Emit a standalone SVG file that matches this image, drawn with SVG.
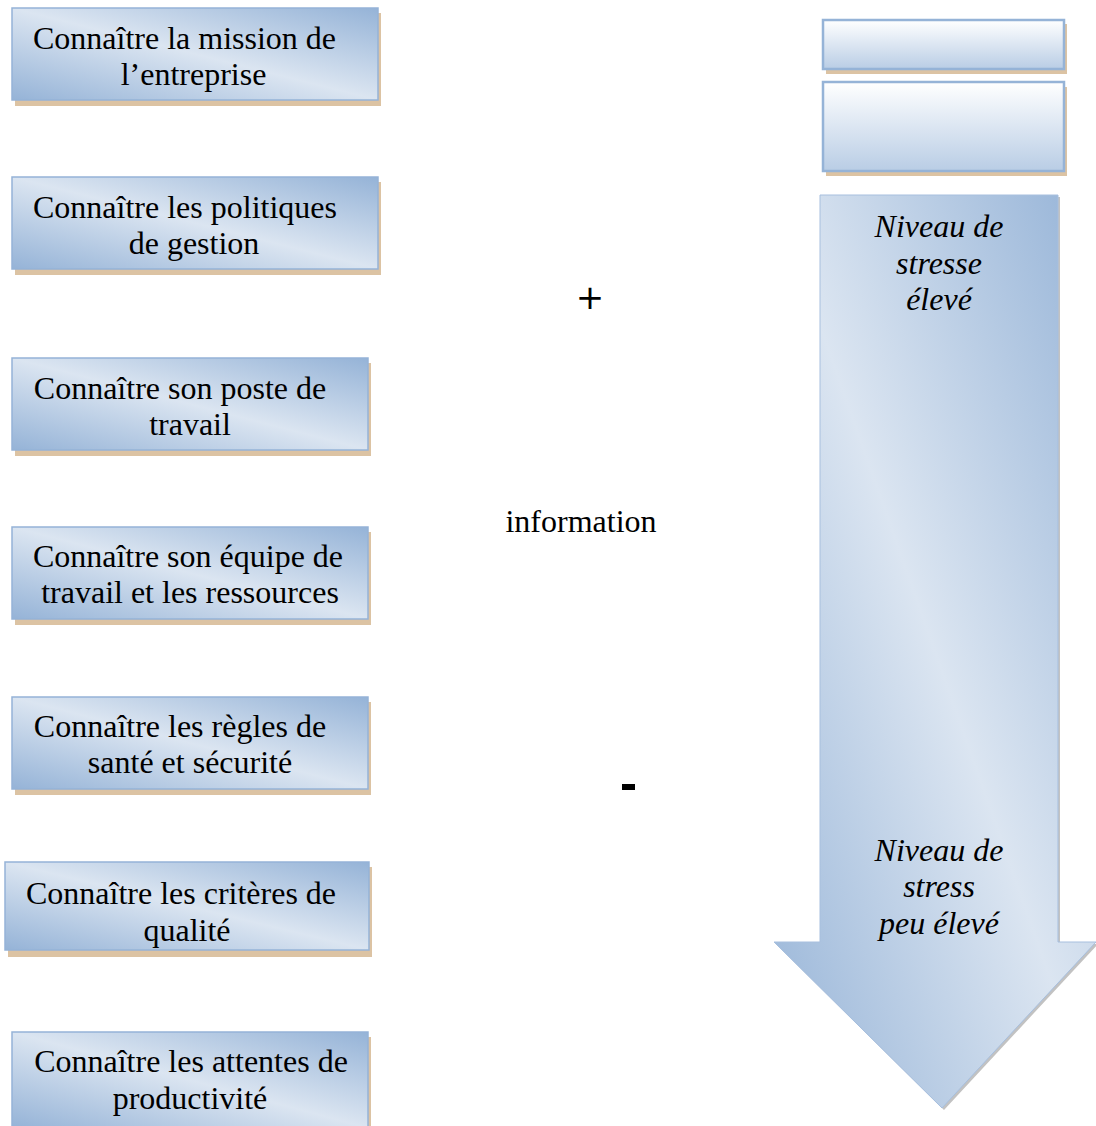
<svg xmlns="http://www.w3.org/2000/svg" width="1096" height="1126" viewBox="0 0 1096 1126">
<style>
.box{fill:url(#gBox);stroke:#95b3d7;stroke-width:1.5}
.shadow{fill:#dcc3a3}
.t{font-family:"Liberation Serif","Times New Roman",serif;font-size:32px;fill:#000;text-anchor:middle}
.i{font-style:italic}
.tb{fill:url(#gTop);stroke:#95b3d7;stroke-width:2.5}
</style>
<defs>
<linearGradient id="gBox" x1="1" y1="0" x2="0" y2="1">
<stop offset="0" stop-color="#95b3d7"/>
<stop offset="0.5" stop-color="#dbe5f1"/>
<stop offset="1" stop-color="#95b3d7"/>
</linearGradient>
<linearGradient id="gTop" x1="0" y1="0" x2="0" y2="1">
<stop offset="0" stop-color="#ffffff"/>
<stop offset="1" stop-color="#b9cde5"/>
</linearGradient>
<linearGradient id="gArrow" x1="1" y1="0" x2="0" y2="1">
<stop offset="0" stop-color="#95b3d7"/>
<stop offset="0.5" stop-color="#dbe5f1"/>
<stop offset="1" stop-color="#95b3d7"/>
</linearGradient>
</defs>

<g id="n1">
<rect class="shadow" x="15" y="13" width="366" height="93"/>
<rect class="box" x="12" y="8" width="366" height="92"/>
<text class="t" x="184.5" y="49">Connaître la mission de</text>
<text class="t" x="193.5" y="85">l’entreprise</text>
</g>
<g id="n2">
<rect class="shadow" x="15" y="182" width="366" height="93"/>
<rect class="box" x="12" y="177" width="366" height="92"/>
<text class="t" x="185" y="218">Connaître les politiques</text>
<text class="t" x="194" y="254">de gestion</text>
</g>
<g id="n3">
<rect class="shadow" x="15" y="363" width="356" height="93"/>
<rect class="box" x="12" y="358" width="356" height="92"/>
<text class="t" x="180" y="399">Connaître son poste de</text>
<text class="t" x="190" y="435">travail</text>
</g>
<g id="n4">
<rect class="shadow" x="15" y="532" width="356" height="93"/>
<rect class="box" x="12" y="527" width="356" height="92"/>
<text class="t" x="188" y="567">Connaître son équipe de</text>
<text class="t" x="190" y="603">travail et les ressources</text>
</g>
<g id="n5">
<rect class="shadow" x="15" y="702" width="356" height="93"/>
<rect class="box" x="12" y="697" width="356" height="92"/>
<text class="t" x="180" y="737">Connaître les règles de</text>
<text class="t" x="190" y="773">santé et sécurité</text>
</g>
<g id="n6">
<rect class="shadow" x="8" y="867" width="364" height="90"/>
<rect class="box" x="5" y="862" width="364" height="88"/>
<text class="t" x="181" y="904">Connaître les critères de</text>
<text class="t" x="187" y="941">qualité</text>
</g>
<g id="n7">
<rect class="shadow" x="15" y="1037" width="356" height="93"/>
<rect class="box" x="12" y="1032" width="356" height="96"/>
<text class="t" x="191" y="1072">Connaître les attentes de</text>
<text class="t" x="190" y="1109">productivité</text>
</g>

<g id="top1">
<rect class="shadow" x="826" y="24" width="241" height="50"/>
<rect class="tb" x="823" y="20" width="241" height="49"/>
</g>
<g id="top2">
<rect class="shadow" x="826" y="87" width="241" height="89"/>
<rect class="tb" x="823" y="82" width="241" height="89"/>
</g>

<g id="arrow">
<path d="M822,197 H1060 V944 H1098 L944,1110 L776,944 H822 Z" fill="#9a9a9a" opacity="0.6"/>
<path d="M820,195 H1058 V942 H1096 L942,1108 L774,942 H820 Z" fill="url(#gArrow)" stroke="#a7bfde" stroke-width="1"/>
<text class="t i" x="939" y="237">Niveau de</text>
<text class="t i" x="939" y="274">stresse</text>
<text class="t i" x="939" y="310">élevé</text>
<text class="t i" x="939" y="861">Niveau de</text>
<text class="t i" x="939" y="897">stress</text>
<text class="t i" x="939" y="934">peu élevé</text>
</g>

<g id="labels">
<text x="590" y="309" style="font-family:'DejaVu Sans',sans-serif;font-size:34px;text-anchor:middle">+</text>
<rect x="622" y="784" width="13" height="6" fill="#000"/>
<text class="t" x="581" y="532">information</text>
</g>
</svg>
